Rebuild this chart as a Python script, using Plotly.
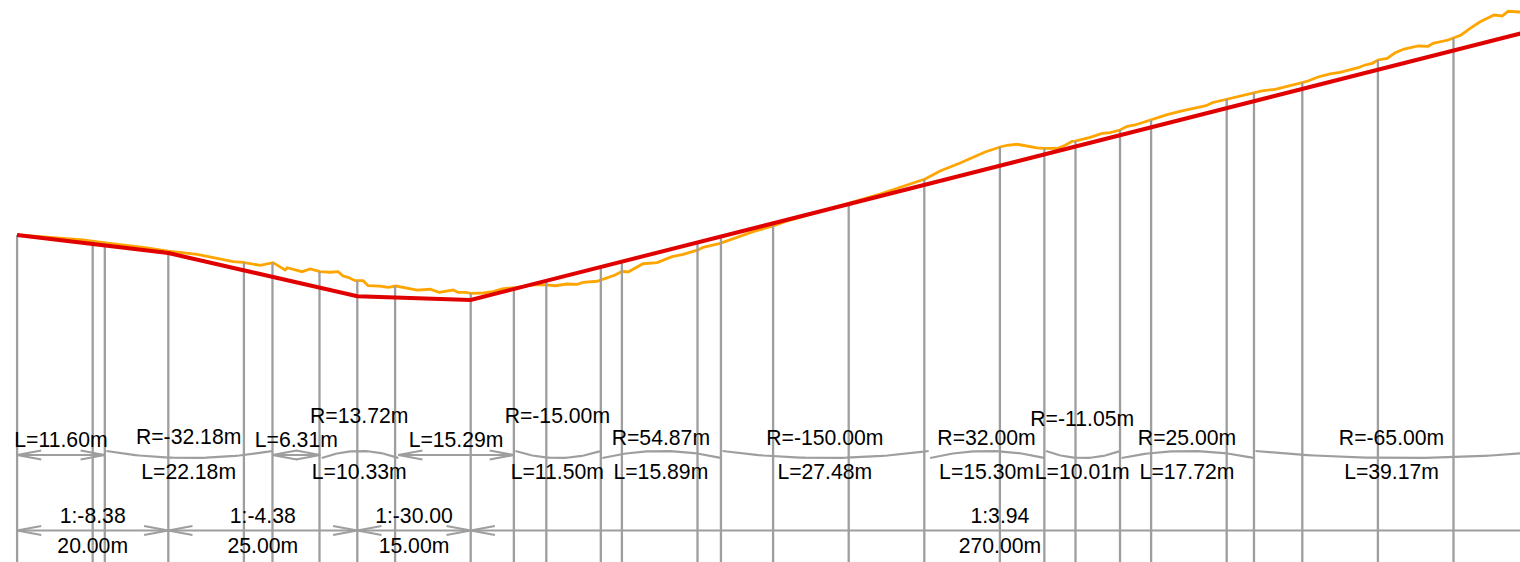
import numpy as np
import plotly.graph_objects as go

# Vertical alignment (chainage m -> elevation m, relative to the start)
design_x = [0, 20, 45, 60, 200]
design_y = [0, -2.39, -8.10, -8.60, 26.94]

# Terrain profile
terrain_x = [0, 8.73, 11.38, 16.67, 19.97, 23.81, 28.57, 29.89, 32.14, 33.86, 35.45, 35.71, 37.70, 38.76, 40.08,
             41.40, 42.46, 43.12, 43.78, 44.71, 45.77, 46.43, 48.02, 49.07, 50.13, 51.59, 52.91, 54.63, 55.82,
             57.67, 58.33, 59.26, 60.05, 61.64, 62.96, 64.29, 65.74, 68.25, 69.97, 71.16, 72.75, 74.07, 74.87,
             76.72, 79.10, 80.03, 80.82, 82.80, 84.66, 86.64, 88.10, 90.08, 90.74, 92.99, 95.63, 97.35, 100.0,
             102.25, 106.22, 110.05, 114.15, 120.11, 122.09, 124.74, 128.04, 130.03, 130.95, 132.28, 133.60,
             134.92, 135.85, 137.70, 138.62, 139.55, 139.95, 141.93, 143.52, 144.58, 145.90, 146.83, 147.88,
             150.0, 152.12, 154.23, 156.08, 157.28, 158.07, 160.05, 162.04, 163.62, 164.68, 166.40, 167.99,
             169.97, 170.77, 172.09, 173.68, 175.0, 177.38, 178.31, 179.23, 180.03, 181.22, 182.28, 183.47,
             185.32, 186.64, 187.30, 189.29, 189.95, 191.01, 192.20, 193.52, 195.37, 196.43, 197.22, 198.81]
terrain_y = [0, -0.66, -1.02, -1.63, -2.12, -2.55, -3.53, -3.61, -4.01, -3.66, -4.63, -4.33, -4.85, -4.50, -4.85,
             -4.93, -4.85, -5.42, -5.60, -6.04, -6.04, -6.71, -6.75, -6.92, -6.75, -7.05, -7.28, -7.18, -7.58,
             -7.28, -7.58, -7.58, -7.71, -7.67, -7.50, -7.10, -6.98, -6.61, -6.61, -6.71, -6.48, -6.52, -6.26,
             -6.12, -5.29, -4.80, -4.89, -3.80, -3.66, -2.87, -2.55, -1.98, -1.63, -1.10, -0.13, 0.44, 1.19,
             1.98, 3.08, 4.23, 5.42, 7.41, 8.47, 9.52, 10.98, 11.64, 11.87, 12.00, 11.77,
             11.51, 11.47, 11.47, 11.87, 12.39, 12.43, 12.92, 13.45, 13.53, 13.89, 14.38, 14.55,
             15.21, 15.91, 16.44, 16.89, 17.10, 17.50, 17.99, 18.39, 18.82, 19.05, 19.27, 19.62,
             20.15, 20.37, 20.90, 21.30, 21.52, 22.13, 22.49, 22.71, 23.15, 23.37, 24.11, 24.60,
             25.00, 24.96, 25.36, 25.79, 26.02, 26.46, 27.34, 28.21, 29.10, 28.97, 29.59, 29.50]

# Horizontal alignment elements
element_len = [11.60, 22.18, 6.31, 10.33, 15.29, 11.50, 15.89, 27.48, 15.30, 10.01, 17.72, 39.17]
element_rad = [None, -32.18, None, 13.72, None, -15.00, 54.87, -150.00, 32.00, -11.05, 25.00, -65.00]

# Grade segments
grade_len = [20.00, 25.00, 15.00, 270.00]
grade_ratio = ["1:-8.38", "1:-4.38", "1:-30.00", "1:3.94"]

# Station lines
station_x = [0, 10, 11.60, 20, 30, 33.78, 40, 45, 50, 60, 65.71, 70, 77.21, 80, 90, 93.10, 100, 110, 120, 130,
             135.88, 140, 145.89, 150, 160, 163.61, 170, 180, 190]

VIEW_END = 200.0

# ---- page layout (pixels) ----
W, H = 1520, 562
PX_PER_M = 7.56
X0_PX, Y0_PX = 17.1, 235
GRAY = "#9e9e9e"
ARROW_LEN_M = 3.2
ARROW_HALF_PX = 4.5
ROW_ELEMENT = 455
ROW_GRADE = 530.5
ARC_HIGH, ARC_LOW = 451, 458
TOP_LABEL_Y = [442, 439, 442, 417.5, 442, 417.5, 439.5, 439.5, 439.5, 420.5, 439.8, 439.8]
LOWER_LABEL_Y = 473.3
GRADE_TOP_Y, GRADE_LOW_Y = 517.3, 547.3

x_range = [-X0_PX / PX_PER_M, (W - X0_PX) / PX_PER_M]
y_range = [(Y0_PX - H) / PX_PER_M, Y0_PX / PX_PER_M]

fig = go.Figure()

fig.add_trace(go.Scatter(x=terrain_x, y=terrain_y, mode="lines",
                         line=dict(color="#ffa500", width=2.8), hoverinfo="skip"))

# station lines rise to whichever profile is higher
sx, sy = [], []
for s in station_x:
    top = max(np.interp(s, design_x, design_y), np.interp(s, terrain_x, terrain_y))
    sx += [s, s, None]
    sy += [top, y_range[0], None]
fig.add_trace(go.Scatter(x=sx, y=sy, mode="lines", line=dict(color=GRAY, width=2.3), hoverinfo="skip"))

fig.add_trace(go.Scatter(x=design_x, y=design_y, mode="lines",
                         line=dict(color="#e00000", width=4), hoverinfo="skip"))


def dimension(x1, x2, y):
    dx = [x1, x2, None,
          x1 + ARROW_LEN_M, x1, x1 + ARROW_LEN_M, None,
          x2 - ARROW_LEN_M, x2, x2 - ARROW_LEN_M, None]
    a, b = y - ARROW_HALF_PX, y + ARROW_HALF_PX
    dy = [y, y, None, a, y, b, None, a, y, b, None]
    return dx, dy


bx, by = [], []
starts = np.concatenate([[0], np.cumsum(element_len)[:-1]])
ends = np.cumsum(element_len)
label_x, label_y, label_t = [], [], []
for i, (s, e, r) in enumerate(zip(starts, ends, element_rad)):
    mid = (s + min(e, VIEW_END)) / 2
    label_x.append(mid)
    if r is None:
        dx, dy = dimension(s, e, ROW_ELEMENT)
        bx += dx
        by += dy
        label_y.append(TOP_LABEL_Y[i])
        label_t.append(f"L={element_len[i]:.2f}m")
    else:
        t = np.linspace(-1, 1, 41)
        ax = (s + 0.2 + e) / 2 + t * (e - s - 0.2) / 2
        if r < 0:
            ay = ARC_LOW + (ARC_HIGH - ARC_LOW) * t ** 2
        else:
            ay = ARC_HIGH + (ARC_LOW - ARC_HIGH) * t ** 2
        bx += list(ax) + [None]
        by += list(ay) + [None]
        label_y.append(TOP_LABEL_Y[i])
        label_t.append(f"R={r:.2f}m")
        label_x.append(mid)
        label_y.append(LOWER_LABEL_Y)
        label_t.append(f"L={element_len[i]:.2f}m")

gstarts = np.concatenate([[0], np.cumsum(grade_len)[:-1]])
gends = np.cumsum(grade_len)
for s, e, ratio, ln in zip(gstarts, gends, grade_ratio, grade_len):
    dx, dy = dimension(s, e, ROW_GRADE)
    bx += dx
    by += dy
    mid = (s + min(e, VIEW_END)) / 2
    label_x += [mid, mid]
    label_y += [GRADE_TOP_Y, GRADE_LOW_Y]
    label_t += [ratio, f"{ln:.2f}m"]

fig.add_trace(go.Scatter(x=bx, y=by, yaxis="y2", mode="lines",
                         line=dict(color=GRAY, width=2.2), hoverinfo="skip"))
fig.add_trace(go.Scatter(x=label_x, y=label_y, yaxis="y2", mode="text", text=label_t,
                         textposition="middle center", cliponaxis=False,
                         textfont=dict(family="Liberation Sans", size=21.2, color="#000000"),
                         hoverinfo="skip"))

fig.update_layout(
    width=W, height=H, margin=dict(l=0, r=0, t=0, b=0),
    paper_bgcolor="#ffffff", plot_bgcolor="#ffffff", showlegend=False,
    xaxis=dict(range=x_range, visible=False, fixedrange=True),
    yaxis=dict(range=y_range, visible=False, fixedrange=True),
    yaxis2=dict(range=[H, 0], visible=False, overlaying="y", fixedrange=True),
)

fig.write_html("out.html", config={"displayModeBar": False},
               post_script="document.body.style.margin='0';document.body.style.overflow='hidden';")
